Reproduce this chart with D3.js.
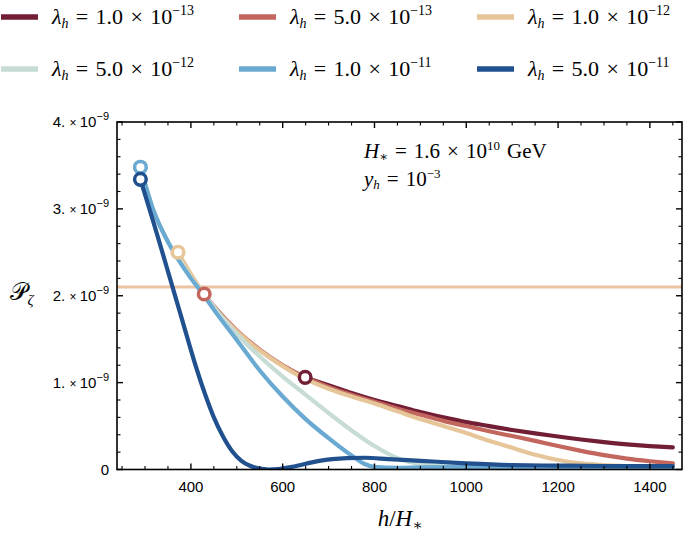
<!DOCTYPE html>
<html><head><meta charset="utf-8">
<script src="https://cdn.jsdelivr.net/npm/d3@7"></script>
<style>body{margin:0;background:#fff}</style>
</head><body>
<svg id="c" width="685" height="535"></svg>
<script>
// ---- data ----
const lambdaLabels = ["1.0","5.0","1.0","5.0","1.0","5.0"];
const lambdaExps = ["−13","−13","−12","−12","−11","−11"];
const colors = ["#721f35","#c2665e","#e6c698","#c6dcd4","#6aaad2","#21508f"];
const planck = 2.1e-9;
const xTicks = [400,600,800,1000,1200,1400];
const yTickMant = [0,1,2,3,4];

// each series: h values and P (units 1e-9)
const s1_h = [649,700,750,800,850,900,950,1000,1050,1100,1150,1200,1250,1300,1350,1400,1450];
const s1_p = [1.06,0.97,0.88,0.80,0.73,0.66,0.60,0.545,0.50,0.455,0.415,0.38,0.345,0.315,0.29,0.27,0.255];
const s2_h = [429,450,500,550,600,650,700,750,800,850,900,950,1000,1050,1100,1150,1200,1250,1300,1350,1400,1450];
const s2_p = [2.02,1.88,1.60,1.38,1.20,1.06,0.95,0.86,0.78,0.70,0.63,0.56,0.50,0.44,0.385,0.33,0.27,0.215,0.165,0.125,0.095,0.07];
const s3_h = [372,400,429,450,500,550,600,650,700,750,800,850,900,950,1000,1050,1100,1150,1200,1250,1300,1350,1400,1450];
const s3_p = [2.50,2.25,2.02,1.87,1.59,1.37,1.19,1.04,0.93,0.84,0.76,0.67,0.58,0.50,0.42,0.33,0.25,0.17,0.11,0.07,0.05,0.04,0.035,0.03];
const s4_h = [290,318,350,372,400,429,450,500,550,600,650,700,750,800,850,900,950,1000,1100,1200,1300,1450];
const s4_p = [3.48,2.99,2.62,2.44,2.21,2.02,1.87,1.56,1.30,1.07,0.86,0.65,0.45,0.27,0.13,0.06,0.035,0.03,0.03,0.03,0.03,0.03];
const s5_h = [290,318,350,372,400,429,450,500,550,600,650,700,750,780,800,850,900,1000,1100,1200,1300,1450];
const s5_p = [3.48,2.99,2.62,2.42,2.20,2.00,1.84,1.49,1.14,0.84,0.58,0.36,0.16,0.06,0.03,0.02,0.025,0.03,0.03,0.025,0.02,0.02];
const s6_h = [290,320,350,380,410,430,450,470,490,510,530,550,570,590,620,680,740,780,830,900,1000,1100,1200,1300,1450];
const s6_p = [3.34,2.82,2.28,1.74,1.20,0.88,0.60,0.38,0.21,0.10,0.04,0.01,0.0,0.005,0.03,0.10,0.13,0.135,0.12,0.10,0.07,0.05,0.045,0.04,0.04];
const seriesH = [s1_h,s2_h,s3_h,s4_h,s5_h,s6_h];
const seriesP = [s1_p,s2_p,s3_p,s4_p,s5_p,s6_p];

// ---- layout ----
const svg = d3.select("#c");
const L=117, R=682, T=122, B=469.5;
const x = d3.scaleLinear().domain([239,1470]).range([L,R]);
const y = d3.scaleLinear().domain([0,4e-9]).range([B,T]);

const defs = svg.append("defs");
defs.append("clipPath").attr("id","clip").append("rect").attr("x",L).attr("y",T).attr("width",R-L).attr("height",B-T);

// planck line
svg.append("line").attr("x1",L).attr("x2",R).attr("y1",y(planck)).attr("y2",y(planck))
  .attr("stroke","#ebc3a1").attr("stroke-width",3);

const line = d3.line().x(d=>x(d[0])).y(d=>y(d[1]*1e-9)).curve(d3.curveMonotoneX);
const g = svg.append("g").attr("clip-path","url(#clip)");
for (let i=0;i<6;i++){
  const pts = seriesH[i].map((h,j)=>[h,seriesP[i][j]]);
  g.append("path").attr("d",line(pts)).attr("fill","none").attr("stroke",colors[i]).attr("stroke-width",4.2).attr("stroke-linecap","round");
}
for (let i=0;i<6;i++){
  g.append("circle").attr("cx",x(seriesH[i][0])).attr("cy",y(seriesP[i][0]*1e-9)).attr("r",5.8)
   .attr("fill","#fff").attr("stroke",colors[i]).attr("stroke-width",3.5);
}

// frame
svg.append("rect").attr("x",L).attr("y",T).attr("width",R-L).attr("height",B-T).attr("fill","none").attr("stroke","#000").attr("stroke-width",1.6);

// ticks
const tk = svg.append("g").attr("stroke","#000");
d3.range(250,1470,50).forEach(v=>{
  const major = v%200===0;
  const len = major?6:3.5;
  tk.append("line").attr("x1",x(v)).attr("x2",x(v)).attr("y1",B).attr("y2",B-len).attr("stroke-width",major?1.4:1.1);
  tk.append("line").attr("x1",x(v)).attr("x2",x(v)).attr("y1",T).attr("y2",T+len).attr("stroke-width",major?1.4:1.1);
});
d3.range(0,4.01,0.2).forEach(v=>{
  const major = Math.abs(v-Math.round(v))<1e-6;
  const len = major?6:3.5;
  const yy = y(v*1e-9);
  tk.append("line").attr("x1",L).attr("x2",L+len).attr("y1",yy).attr("y2",yy).attr("stroke-width",major?1.4:1.1);
  tk.append("line").attr("x1",R).attr("x2",R-len).attr("y1",yy).attr("y2",yy).attr("stroke-width",major?1.4:1.1);
});

// tick labels
const sans = "'Liberation Sans', Arial, sans-serif";
xTicks.forEach(v=>{
  svg.append("text").attr("x",x(v)).attr("y",B+22).attr("text-anchor","middle")
   .attr("font-family",sans).attr("font-size",15).text(v);
});
yTickMant.forEach(v=>{
  const t = svg.append("text").attr("x",109).attr("y",y(v*1e-9)+5).attr("text-anchor","end")
   .attr("font-family",sans).attr("font-size",15);
  if (v===0) { t.text("0"); }
  else {
    t.append("tspan").text(v+". ");
    t.append("tspan").attr("font-size",12).text("× ");
    t.append("tspan").text("10");
    t.append("tspan").attr("font-size",11).attr("dy",-7).text("−9");
  }
});

// axis titles
const serif = "'Liberation Serif', 'DejaVu Serif', serif";
svg.append("text").attr("x",400).attr("y",526).attr("text-anchor","middle").attr("font-family",serif).attr("font-size",23)
  .call(t=>{
    t.append("tspan").attr("font-style","italic").text("h");
    t.append("tspan").text("/");
    t.append("tspan").attr("font-style","italic").text("H");
    t.append("tspan").attr("font-size",15).attr("dy",4).text("∗");
  });
svg.append("text").attr("x",22).attr("y",300).attr("text-anchor","middle").attr("font-family",serif).attr("font-size",24)
  .call(t=>{
    t.append("tspan").text("𝒫");
    t.append("tspan").attr("font-size",15).attr("dy",5).attr("font-style","italic").text("ζ");
  });

// annotation
const sp = "\u2004";
svg.append("text").attr("x",364).attr("y",158).attr("font-family",serif).attr("font-size",21)
  .call(t=>{
    t.append("tspan").attr("font-style","italic").text("H");
    t.append("tspan").attr("font-size",13).attr("dy",3).text("∗");
    t.append("tspan").attr("dy",-3).text(sp+"="+sp+"1.6"+sp+"×"+sp+"10");
    t.append("tspan").attr("font-size",13).attr("dy",-8).text("10");
    t.append("tspan").attr("dy",8).text(sp+"GeV");
  });
svg.append("text").attr("x",364).attr("y",186).attr("font-family",serif).attr("font-size",21)
  .call(t=>{
    t.append("tspan").attr("font-style","italic").text("y");
    t.append("tspan").attr("font-size",13).attr("dy",3).attr("font-style","italic").text("h");
    t.append("tspan").attr("dy",-3).text(sp+"="+sp+"10");
    t.append("tspan").attr("font-size",13).attr("dy",-8).text("−3");
  });

// legend
const legX = [0,238,476], legY=[17,69];
for (let i=0;i<6;i++){
  const cx = legX[i%3], cy = legY[Math.floor(i/3)];
  svg.append("line").attr("x1",cx+1).attr("x2",cx+38).attr("y1",cy).attr("y2",cy).attr("stroke",colors[i]).attr("stroke-width",5.5);
  const t = svg.append("text").attr("x",cx+52).attr("y",cy+7).attr("font-family",serif).attr("font-size",22);
  t.append("tspan").attr("font-style","italic").text("λ");
  t.append("tspan").attr("font-size",14).attr("dy",4).attr("font-style","italic").text("h");
  t.append("tspan").attr("dy",-4).text(sp+"="+sp+lambdaLabels[i]+sp+"×"+sp+"10");
  t.append("tspan").attr("font-size",14).attr("dy",-9).text(lambdaExps[i]);
}
</script>
</body></html>
